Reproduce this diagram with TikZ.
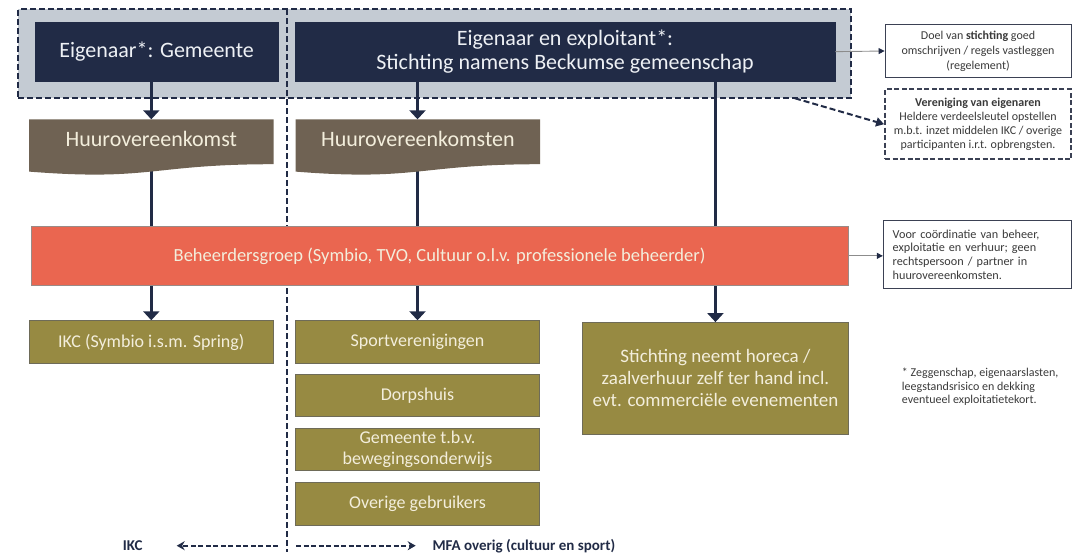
\documentclass[tikz,border=0pt]{standalone}
\usepackage{fontspec}
\setmainfont{Carlito}
\usetikzlibrary{arrows.meta,calc}

\definecolor{navy}{HTML}{212B46}
\definecolor{regiongray}{HTML}{C4CBD3}
\definecolor{docbrown}{HTML}{6F6253}
\definecolor{coral}{HTML}{EA6650}
\definecolor{coraledge}{HTML}{9A8A86}
\definecolor{olive}{HTML}{978A42}
\definecolor{oliveedge}{HTML}{6E6B58}
\definecolor{cream}{HTML}{F3EEDC}
\definecolor{headtext}{HTML}{EEF1F5}
\definecolor{notetext}{HTML}{3A3A3A}
\definecolor{noteedge}{HTML}{3B4154}
\definecolor{thingray}{HTML}{8C8C8C}

\pgfdeclarelayer{regionlayer}
\pgfdeclarelayer{linklayer}
\pgfdeclarelayer{docfill}
\pgfsetlayers{regionlayer,linklayer,docfill,main}

\begin{document}
\begin{tikzpicture}[x=1pt,y=-1pt,
  region/.style={fill=regiongray, draw=navy, line width=2pt, dash pattern=on 6pt off 3pt, inner sep=0pt},
  owner/.style={fill=navy, draw=navy, line width=0.6pt, text=headtext, align=center, inner sep=0pt,
    font=\fontsize{22}{24}\selectfont},
  doclabel/.style={text=cream, inner sep=0pt, font=\fontsize{22}{24}\selectfont},
  mgmt/.style={fill=coral, draw=coraledge, line width=0.6pt, text=cream, inner sep=0pt,
    font=\fontsize{18.5}{21}\selectfont},
  user/.style={fill=olive, draw=oliveedge, line width=0.8pt, text=cream, align=center, inner sep=0pt,
    font=\fontsize{18}{21}\selectfont},
  note/.style={fill=white, draw=noteedge, line width=0.9pt, text=notetext, align=center, inner sep=0pt,
    font=\fontsize{12}{15}\selectfont},
  flow/.style={draw=navy, line width=3pt},
  flowarrow/.style={flow, -{Triangle[width=16pt,length=9pt]}},
  thinarrow/.style={draw=thingray, line width=0.9pt, -{Triangle[width=6pt,length=6pt,color=navy]}},
  dasharrow/.style={draw=navy, line width=2pt, dash pattern=on 6pt off 3pt, -{Triangle[width=9pt,length=8pt]}},
  divider/.style={draw=navy, line width=2pt, dash pattern=on 6pt off 3pt},
  bottomarrow/.style={draw=navy, line width=1.8pt, dash pattern=on 5pt off 2.5pt, -{Stealth[width=9pt,length=8pt]}},
  bottomlabel/.style={text=navy, inner sep=0pt, font=\fontsize{15}{18}\selectfont\bfseries}
]
\useasboundingbox (0,0) rectangle (1074,552);

% shaded ownership band behind the two owner boxes
\begin{pgfonlayer}{regionlayer}
  \node[region, minimum width=832.7pt, minimum height=89pt] (owners) at (434.65,53.8) {};
\end{pgfonlayer}

% owners
\node[owner, minimum width=243.3pt, minimum height=58.7pt] (gemeente) at (156.65,51.65) {Eigenaar*: Gemeente};
\node[owner, minimum width=540pt, minimum height=58.7pt] (stichting) at (565,51.65)
  {Eigenaar en exploitant*:\\Stichting namens Beckumse gemeenschap};

% lease documents
\node[doclabel, minimum width=244pt, minimum height=38pt, anchor=north] (huur1) at (151.3,119.3) {Huurovereenkomst};
\node[doclabel, minimum width=244.3pt, minimum height=38pt, anchor=north] (huur2) at (417.85,119.3) {Huurovereenkomsten};
\begin{pgfonlayer}{docfill}
  \foreach \d in {huur1,huur2}
    \fill[docbrown] (\d.north west) -- (\d.north east) -- ($(\d.north east)+(0,44.9)$)
      .. controls +(-122,0) and +(122,9.7) .. ($(\d.north west)+(0,52.3)$) -- cycle;
\end{pgfonlayer}

% management group
\node[mgmt, minimum width=817.2pt, minimum height=58.3pt] (beheer) at (439.6,255.85)
  {Beheerdersgroep (Symbio, TVO, Cultuur o.l.v. professionele beheerder)};

% users
\node[user, minimum width=244pt, minimum height=42.6pt] (ikc) at (151.3,342) {IKC (Symbio i.s.m. Spring)};
\node[user, minimum width=243.6pt, minimum height=42.6pt] (sport) at (417.5,342) {Sportverenigingen};
\node[user, minimum width=243.6pt, minimum height=42.7pt] (dorps) at (417.5,395.35) {Dorpshuis};
\node[user, minimum width=243.6pt, minimum height=42.4pt] (gembew) at (417.5,449.5) {Gemeente t.b.v.\\bewegingsonderwijs};
\node[user, minimum width=243.6pt, minimum height=42.7pt] (overig) at (417.5,503.65) {Overige gebruikers};
\node[user, minimum width=265.5pt, minimum height=111.8pt, font=\fontsize{19}{22}\selectfont] (horeca) at (715.45,378.4)
  {Stichting neemt horeca /\\zaalverhuur zelf ter hand incl.\\evt. commerciële evenementen};

% side notes
\node[note, minimum width=186pt, minimum height=53.4pt] (doel) at (978,51)
  {Doel van \textbf{stichting} goed\\omschrijven / regels vastleggen\\(regelement)};
\node[note, minimum width=186pt, minimum height=69.7pt, dash pattern=on 5pt off 2.5pt, line width=1.8pt,
  font=\fontsize{12}{14}\selectfont] (vve) at (978,124.2)
  {\textbf{Vereniging van eigenaren}\\Heldere verdeelsleutel opstellen\\m.b.t. inzet middelen IKC / overige\\participanten i.r.t. opbrengsten.};
\node[note, align=left, inner xsep=9.4pt, text width=168.9pt, minimum height=67.6pt,
  font=\fontsize{12.2}{13.6}\selectfont] (voor) at (977.15,254.5)
  {Voor coördinatie van beheer,\\exploitatie en verhuur; geen\\rechtspersoon / partner in\\huurovereenkomsten.};
\node[anchor=north west, align=left, inner sep=0pt, text=notetext, font=\fontsize{12}{13.3}\selectfont] (footnote) at (901.7,368)
  {* Zeggenschap, eigenaarslasten,\\leegstandsrisico en dekking\\eventueel exploitatietekort.};

% connectors
\coordinate (divtop) at (287.3,9.3);
\coordinate (divbot) at (287.3,552);
\begin{pgfonlayer}{linklayer}
  \draw[divider] (divtop) -- (divbot);
  \draw[flowarrow] (gemeente.south -| ikc) -- (huur1.north -| ikc);
  \draw[flow] (huur1.south -| ikc) -- (beheer.north -| ikc);
  \draw[flowarrow] (beheer.south -| ikc) -- (ikc.north);
  \draw[flowarrow] (stichting.south -| sport) -- (huur2.north -| sport);
  \draw[flow] (huur2.south -| sport) -- (beheer.north -| sport);
  \draw[flowarrow] (beheer.south -| sport) -- (sport.north);
  \draw[flow] (stichting.south -| horeca) -- (beheer.north -| horeca);
  \draw[flowarrow] (beheer.south -| horeca) -- (horeca.north);
\end{pgfonlayer}

\draw[thinarrow] (stichting.east) -- (doel.west);
\draw[thinarrow] (beheer.east) -- (beheer.east -| voor.west);
\coordinate (vvestart) at (795,98.3);
\draw[dasharrow] (vvestart) -- (vve.west);

% split legend along the bottom
\node[bottomlabel, anchor=base west] (ikclabel) at (122.7,550.2) {IKC};
\node[bottomlabel, anchor=base west] (mfalabel) at (432.3,550.2) {MFA overig (cultuur en sport)};
\coordinate (lstart) at (278,545.7);
\coordinate (lend) at (176.7,545.7);
\coordinate (rstart) at (296,545.7);
\coordinate (rend) at (415.7,545.7);
\draw[bottomarrow] (lstart) -- (lend);
\draw[bottomarrow] (rstart) -- (rend);
\end{tikzpicture}
\end{document}
